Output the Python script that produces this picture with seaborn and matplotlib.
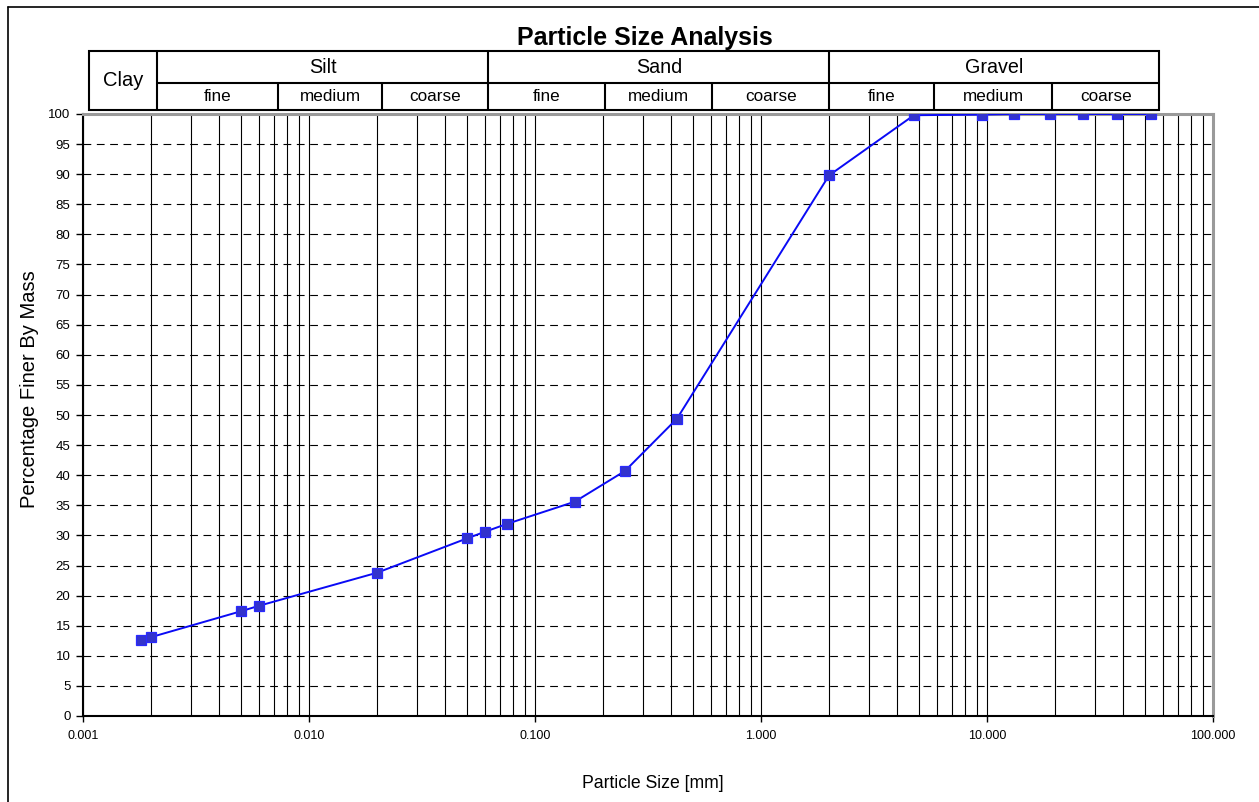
import numpy as np
import pandas as pd
import seaborn as sns
import matplotlib.pyplot as plt
from matplotlib.lines import Line2D
from matplotlib.patches import Rectangle
from matplotlib.ticker import LogLocator, FixedLocator, FixedFormatter, NullFormatter

# données
particle_size = [0.0018, 0.002, 0.005, 0.006, 0.02, 0.05, 0.06, 0.075, 0.15, 0.25,
                 0.425, 2.0, 4.75, 9.5, 13.2, 19.0, 26.5, 37.5, 53.0]
percent_finer = [12.7, 13.1, 17.4, 18.3, 23.8, 29.5, 30.6, 31.9, 35.6, 40.7,
                 49.4, 89.8, 99.8, 99.9, 100, 100, 100, 100, 100]

x_ticks = [0.001, 0.01, 0.1, 1, 10, 100]
x_tick_labels = ["0.001", "0.010", "0.100", "1.000", "10.000", "100.000"]
y_ticks = list(range(0, 101, 5))

main_classes = ["Clay", "Silt", "Sand", "Gravel"]
sub_classes = ["fine", "medium", "coarse"]

# mise en page de l'entete (pixels)
W, H = 1259, 802
head_left, head_right, head_top, head_mid, head_bot = 89.3, 1159.3, 51, 82.7, 110
main_edges = [89.3, 157, 488.3, 829.3, 1159.3]
sub_edges = [[157, 278, 382, 488.3], [488.3, 604.7, 712, 829.3], [829.3, 934.3, 1052, 1159.3]]

sns.set_style("white")
plt.rcParams['font.family'] = ['Liberation Sans', 'DejaVu Sans']
plt.rcParams['text.color'] = 'black'
plt.rcParams['axes.labelcolor'] = 'black'
plt.rcParams['xtick.color'] = 'black'
plt.rcParams['ytick.color'] = 'black'

df = pd.DataFrame({'size': particle_size, 'finer': percent_finer})

fig = plt.figure(figsize=(W / 100, H / 100), dpi=100)
ax = fig.add_axes([83 / W, 1 - 716 / H, (1213 - 83) / W, (716 - 114) / H])

sns.lineplot(data=df, x='size', y='finer', ax=ax, color='#0A0AF5', lw=1.4,
             marker='s', markersize=7.5, markerfacecolor='#3333CC',
             markeredgecolor='#2A2AFF', markeredgewidth=0.9, zorder=5)

ax.set_xscale('log')
ax.set_xlim(0.001, 100)
ax.set_ylim(0, 100)

ax.xaxis.set_major_locator(FixedLocator(x_ticks))
ax.xaxis.set_major_formatter(FixedFormatter(x_tick_labels))
ax.xaxis.set_minor_locator(LogLocator(base=10, subs=range(2, 10), numticks=100))
ax.xaxis.set_minor_formatter(NullFormatter())
ax.set_yticks(y_ticks)

ax.tick_params(axis='x', which='major', direction='out', length=4, width=1,
               color='black', labelsize=9, pad=6, bottom=True)
ax.tick_params(axis='x', which='minor', length=0)
ax.tick_params(axis='y', direction='out', length=5, width=1, color='black',
               labelsize=9.5, pad=4, left=True)

ax.set_axisbelow(True)
ax.grid(True, axis='x', which='both', color='black', lw=0.8)
ax.grid(True, axis='y', which='major', color='black', lw=0.8, linestyle=(0, (7, 5)))

for side in ['left', 'bottom']:
    ax.spines[side].set_color('black')
    ax.spines[side].set_linewidth(1.5)
for side in ['top', 'right']:
    ax.spines[side].set_color('#9a9a9a')
    ax.spines[side].set_linewidth(2.2)

ax.set_xlabel('Particle Size [mm]', fontsize=12.7)
ax.set_ylabel('Percentage Finer By Mass', fontsize=14.5)
ax.xaxis.set_label_coords(0.504, -0.098)
ax.yaxis.set_label_coords(-0.039, 0.543)

# entete des classes granulométriques
hx = fig.add_axes([head_left / W, 1 - head_bot / H, (head_right - head_left) / W,
                   (head_bot - head_top) / H])
hx.set_xlim(head_left, head_right)
hx.set_ylim(head_bot, head_top)
hx.axis('off')
hx.add_patch(Rectangle((head_left, head_top), head_right - head_left, head_bot - head_top,
                       fill=False, lw=1.5, ec='black', clip_on=False))
for e in main_edges[1:-1]:
    hx.plot([e, e], [head_top, head_bot], color='black', lw=1.5, clip_on=False)
hx.plot([main_edges[1], head_right], [head_mid, head_mid], color='black', lw=1.5, clip_on=False)

hx.text((main_edges[0] + main_edges[1]) / 2, (head_top + head_bot) / 2, main_classes[0],
        ha='center', va='center', fontsize=14.5)
for i, edges in enumerate(sub_edges):
    hx.text((edges[0] + edges[-1]) / 2, (head_top + head_mid) / 2 + 1, main_classes[i + 1],
            ha='center', va='center', fontsize=14.2)
    for e in edges[1:-1]:
        hx.plot([e, e], [head_mid, head_bot], color='black', lw=1.5, clip_on=False)
    for j, name in enumerate(sub_classes):
        hx.text((edges[j] + edges[j + 1]) / 2, (head_mid + head_bot) / 2 + 0.5, name,
                ha='center', va='center', fontsize=12.3)

fig.text(645 / W, 1 - 38 / H, 'Particle Size Analysis', ha='center', va='center',
         fontsize=18, fontweight='bold')

# cadre de la figure
fig.add_artist(Line2D([8 / W, 8 / W], [0, 1 - 7 / H], transform=fig.transFigure,
                      color='black', lw=1.2))
fig.add_artist(Line2D([8 / W, 1], [1 - 7 / H, 1 - 7 / H], transform=fig.transFigure,
                      color='black', lw=1.2))

plt.savefig('out.png', dpi=100)
